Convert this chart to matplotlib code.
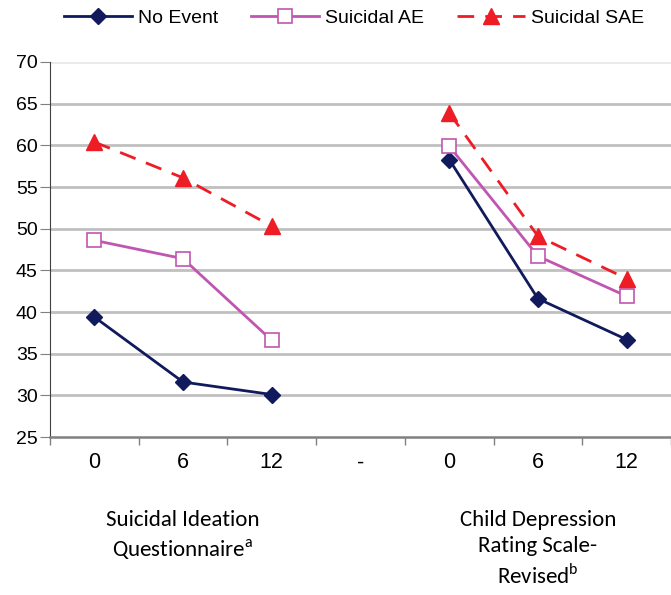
import matplotlib
matplotlib.use('Agg')
import matplotlib.pyplot as plt
import numpy as np

# x categories: months for each scale, with a blank separator in between
categories = ['0', '6', '12', '-', '0', '6', '12']
no_event = [39.4, 31.6, 30.1, np.nan, 58.3, 41.6, 36.7]
suicidal_ae = [48.6, 46.4, 36.6, np.nan, 59.9, 46.7, 41.9]
suicidal_sae = [60.4, 56.1, 50.3, np.nan, 63.9, 49.1, 44.0]
group_labels = ['Suicidal Ideation\nQuestionnaire$^\\mathregular{a}$',
                'Child Depression\nRating Scale-\nRevised$^\\mathregular{b}$']

plt.rcParams['font.family'] = ['Liberation Sans', 'DejaVu Sans']

fig = plt.figure(figsize=(6.71, 5.95), dpi=100)
ax = fig.add_axes([0.0745, 0.2655, 0.9255, 0.6303])

x = np.arange(len(categories))
ax.plot(x, no_event, color='#111a5c', lw=2, marker='D', ms=8, label='No Event')
ax.plot(x, suicidal_ae, color='#c056b2', lw=2, marker='s', ms=10,
        mfc='white', mec='#c056b2', mew=1.2, label='Suicidal AE')
ax.plot(x, suicidal_sae, color='#ee1c25', lw=2, ls=(0, (6, 4)), marker='^', ms=11,
        label='Suicidal SAE')

ax.set_xlim(-0.5, len(categories) - 0.5)
ax.set_ylim(25, 70)
ax.set_yticks(range(25, 71, 5))
for v in range(30, 71, 5):
    ax.axhline(v, color='#c0c0c0', lw=2, zorder=0, alpha=0.35 if v == 70 else 1)

ax.set_xticks(x)
ax.set_xticklabels(categories, family=['Liberation Sans Narrow', 'Liberation Sans'], fontsize=15.5)
ax.set_xticks(np.arange(-0.5, len(categories), 1), minor=True)
ax.tick_params(axis='x', which='major', length=0, pad=11)
ax.tick_params(axis='x', which='minor', length=6, color='#808080', width=1)
ax.tick_params(axis='y', length=7, color='#808080', labelsize=14, pad=2)

ax.spines['top'].set_visible(False)
ax.spines['right'].set_visible(False)
ax.spines['left'].set_color('#404040')
ax.spines['bottom'].set_color('#808080')
ax.spines['bottom'].set_linewidth(1.8)

for xpos, lab in zip([1, 5], group_labels):
    ax.text(xpos, -0.195, lab, transform=ax.get_xaxis_transform(), ha='center', va='top',
            fontsize=16.5, family=['Carlito', 'Lato'], linespacing=1.38)

fig.legend(loc='center left', bbox_to_anchor=(64 / 671, 1 - 18 / 595), ncol=3, frameon=False,
           fontsize=14, handlelength=3.5, columnspacing=1.7, handletextpad=0.3,
           borderpad=0, borderaxespad=0)

fig.savefig('out.png', dpi=100)
